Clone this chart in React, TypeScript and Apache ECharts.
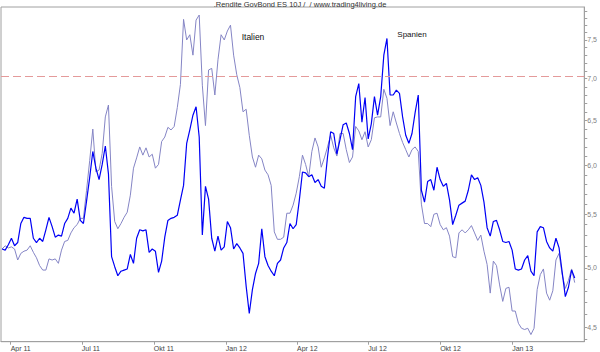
import { useEffect, useRef } from "react";
import * as echarts from "echarts";

const TITLE = ".Rendite GovBond ES 10J /  / www.trading4living.de";
const START_DATE = "2011-03-21";
const STEP_DAYS = 4;

// Spanien 10J (blue)
const spainYield = [
  5.17, 5.16, 5.21, 5.27, 5.20, 5.23, 5.41, 5.47, 5.46, 5.46,
  5.27, 5.23, 5.27, 5.24, 5.35, 5.47, 5.38, 5.28, 5.30, 5.29,
  5.41, 5.46, 5.56, 5.51, 5.65, 5.44, 5.41, 5.63, 5.87, 6.15,
  5.97, 5.85, 6.01, 6.21, 5.91, 5.10, 5.01, 4.93,
  4.97, 4.98, 4.99, 5.12, 5.04, 5.27, 5.35, 5.34, 5.35, 5.14,
  5.17, 5.15, 4.96, 5.06, 5.28, 5.44, 5.46, 5.47, 5.49, 5.64,
  5.79, 6.24, 6.39, 6.56, 6.66, 6.31, 5.30, 5.78, 5.65, 5.27,
  5.15, 5.29, 5.16, 5.19, 5.43, 5.37, 5.17, 5.22,
  5.18, 5.13, 4.84, 4.61, 4.81, 4.95, 5.04, 5.36, 5.10, 5.02,
  4.97, 4.93, 5.04, 5.07, 5.18, 5.23, 5.41, 5.36, 5.40, 5.64,
  5.93, 5.92, 5.88, 5.90, 5.82, 5.85, 5.78, 5.76, 6.09, 6.37,
  6.35, 6.12, 6.28, 6.45, 6.47, 6.35, 6.17, 6.78,
  6.94, 6.48, 6.77, 6.29, 6.46, 6.78, 6.56, 6.78, 7.30, 7.52,
  6.80, 6.80, 6.86, 6.82, 6.54, 6.33, 6.24, 6.35, 6.59, 6.80,
  5.74, 5.62, 5.83, 5.85, 5.74, 5.98, 5.85, 5.78, 5.81, 5.64,
  5.40, 5.49, 5.59, 5.61, 5.63, 5.74, 5.90, 5.85, 5.87,
  5.79, 5.62, 5.37, 5.29, 5.43, 5.44, 5.35, 5.24, 5.23, 5.24,
  5.16, 4.99, 4.98, 4.99, 5.07, 5.11, 4.97, 4.93, 5.33, 5.38,
  5.37, 5.24, 5.18, 5.15, 5.27, 5.18, 4.96, 4.75, 4.83, 4.98, 4.91,
];

// Italien 10J (light)
const italyYield = [
  5.17, 5.20, 5.18, 5.19, 5.17, 5.07, 5.13, 5.15, 5.16, 5.20,
  5.14, 5.09, 5.02, 4.98, 4.98, 5.08, 5.07, 5.08, 5.04, 5.16,
  5.24, 5.25, 5.32, 5.37, 5.40, 5.46, 5.46, 5.74, 6.05, 6.40,
  5.93, 5.95, 6.13, 6.54, 6.68, 5.78, 5.43, 5.36,
  5.41, 5.47, 5.52, 5.69, 5.97, 6.08, 6.20, 6.11, 6.19, 6.09,
  6.12, 5.97, 6.01, 6.26, 6.31, 6.42, 6.39, 6.43, 6.65, 6.93,
  7.78, 7.50, 7.57, 7.30, 7.77, 7.84, 6.92, 6.44, 7.11, 7.13,
  6.80, 7.24, 7.57, 7.50, 7.62, 7.70, 7.30, 7.05,
  6.89, 6.60, 6.63, 6.33, 6.09, 5.98, 6.11, 6.07, 5.95, 5.90,
  5.79, 5.33, 5.26, 5.26, 5.28, 5.51, 5.51, 5.59, 5.71, 5.88,
  6.11, 6.01, 5.88, 6.15, 6.30, 6.20, 5.98, 6.08, 6.20, 6.33,
  6.19, 6.10, 6.35, 6.35, 6.17, 6.03, 6.09, 6.43,
  6.38, 6.28, 6.37, 6.20, 6.28, 6.53, 6.54, 6.54, 6.87, 6.76,
  6.44, 6.60, 6.47, 6.35, 6.25, 6.17, 6.09, 6.17, 6.20, 6.15,
  5.60, 5.41, 5.41, 5.38, 5.50, 5.51, 5.40, 5.35, 5.37, 5.29,
  5.10, 5.09, 5.32, 5.35, 5.32, 5.35, 5.39, 5.32, 5.25,
  5.30, 5.15, 5.03, 4.78, 5.06, 5.02, 4.85, 4.71, 4.82, 4.83,
  4.63, 4.63, 4.53, 4.49, 4.48, 4.49, 4.44, 4.49, 4.81, 4.94,
  4.99, 4.78, 4.72, 4.80, 5.07, 5.13, 4.94, 4.82, 4.89, 4.99, 4.87,
];

const quarterTicks = [
  "2011-04-01", "2011-07-01", "2011-10-01", "2012-01-01",
  "2012-04-01", "2012-07-01", "2012-10-01", "2013-01-01",
];
const monthNames = ["Jan", "Feb", "Mär", "Apr", "Mai", "Jun", "Jul", "Aug", "Sep", "Okt", "Nov", "Dez"];
const yLabelValues = [4.5, 5.0, 5.5, 6.0, 6.5, 7.0, 7.5];
const yTickValues = [
  4.4, 4.5, 4.6, 4.7, 4.8, 4.9, 5.0, 5.1, 5.2, 5.3, 5.4, 5.5, 5.6, 5.7, 5.8, 5.9,
  6.0, 6.1, 6.2, 6.3, 6.4, 6.5, 6.6, 6.7, 6.8, 6.9, 7.0, 7.1, 7.2, 7.3, 7.4, 7.5,
  7.6, 7.7, 7.8, 7.9,
];
const REF_LEVEL = 7.0;
const Y_MIN = 4.384;
const Y_MAX = 7.953;
const X_MIN = "2011-03-19T15:36:00Z";
const X_MAX = "2013-04-03T05:00:00Z";

const FONT = "Liberation Sans, Arial, sans-serif";

export default function App() {
  const ref = useRef<HTMLDivElement>(null);

  useEffect(() => {
    document.body.style.margin = "0";
    if (!ref.current) return;
    const chart = echarts.init(ref.current, undefined, { renderer: "svg" });
    const t0 = Date.parse(START_DATE + "T00:00:00Z");
    const day = 86400000;
    const toPoints = (vals: number[]) =>
      vals.map((v, i) => [t0 + i * STEP_DAYS * day, Math.log(v)]);

    chart.setOption({
      animation: false,
      backgroundColor: "#ffffff",
      title: {
        text: TITLE,
        left: "center",
        top: 0,
        padding: 0,
        textStyle: { fontSize: 7.5, fontWeight: "normal", color: "#333333", fontFamily: FONT },
      },
      grid: {
        left: 1,
        right: 13.3,
        top: 7,
        bottom: 10.3,
        show: true,
        borderColor: "#a0a0a0",
        borderWidth: 1,
        backgroundColor: "transparent",
      },
      xAxis: {
        type: "value",
        min: Date.parse(X_MIN),
        max: Date.parse(X_MAX),
        axisLine: { show: true, lineStyle: { color: "#a0a0a0" } },
        axisTick: {
          show: true,
          length: 3,
          customValues: quarterTicks.map((d) => Date.parse(d + "T00:00:00Z")),
          lineStyle: { color: "#a0a0a0" },
        },
        axisLabel: {
          customValues: quarterTicks.map((d) => Date.parse(d + "T00:00:00Z")),
          formatter: (v: number) => {
            const d = new Date(v);
            return monthNames[d.getUTCMonth()] + " " + String(d.getUTCFullYear()).slice(2);
          },
          align: "left",
          margin: 3,
          fontSize: 7,
          color: "#444444",
          fontFamily: FONT,
        },
        splitLine: { show: false },
      },
      yAxis: {
        type: "value",
        position: "right",
        min: Math.log(Y_MIN),
        max: Math.log(Y_MAX),
        axisLine: { show: true, lineStyle: { color: "#a0a0a0" } },
        axisTick: {
          show: true,
          length: 3,
          customValues: yTickValues.map((v) => Math.log(v)),
          lineStyle: { color: "#a0a0a0" },
        },
        axisLabel: {
          customValues: yLabelValues.map((v) => Math.log(v)),
          formatter: (v: number) => Math.exp(v).toFixed(1).replace(".", ","),
          margin: 3,
          fontSize: 7,
          color: "#808080",
          fontFamily: FONT,
        },
        splitLine: { show: false },
      },
      series: [
        {
          name: "Italien",
          type: "line",
          data: toPoints(italyYield),
          symbol: "none",
          lineStyle: { color: "#8585c5", width: 1 },
          z: 2,
          markLine: {
            silent: true,
            symbol: "none",
            label: { show: false },
            lineStyle: { color: "#e49a9a", width: 1, type: [8, 4] },
            data: [{ yAxis: Math.log(REF_LEVEL) }],
          },
        },
        {
          name: "Spanien",
          type: "line",
          data: toPoints(spainYield),
          symbol: "none",
          lineStyle: { color: "#0000f5", width: 1.2 },
          z: 3,
        },
      ],
      graphic: [
        {
          type: "text",
          x: 253,
          y: 37,
          style: {
            text: "Italien",
            fontSize: 8.5,
            fill: "#111111",
            fontFamily: FONT,
            align: "center",
            verticalAlign: "middle",
          },
        },
        {
          type: "text",
          x: 412,
          y: 34,
          style: {
            text: "Spanien",
            fontSize: 8,
            fill: "#111111",
            fontFamily: FONT,
            align: "center",
            verticalAlign: "middle",
          },
        },
      ],
    });

    return () => chart.dispose();
  }, []);

  return <div ref={ref} style={{ width: 600, height: 352 }} />;
}
